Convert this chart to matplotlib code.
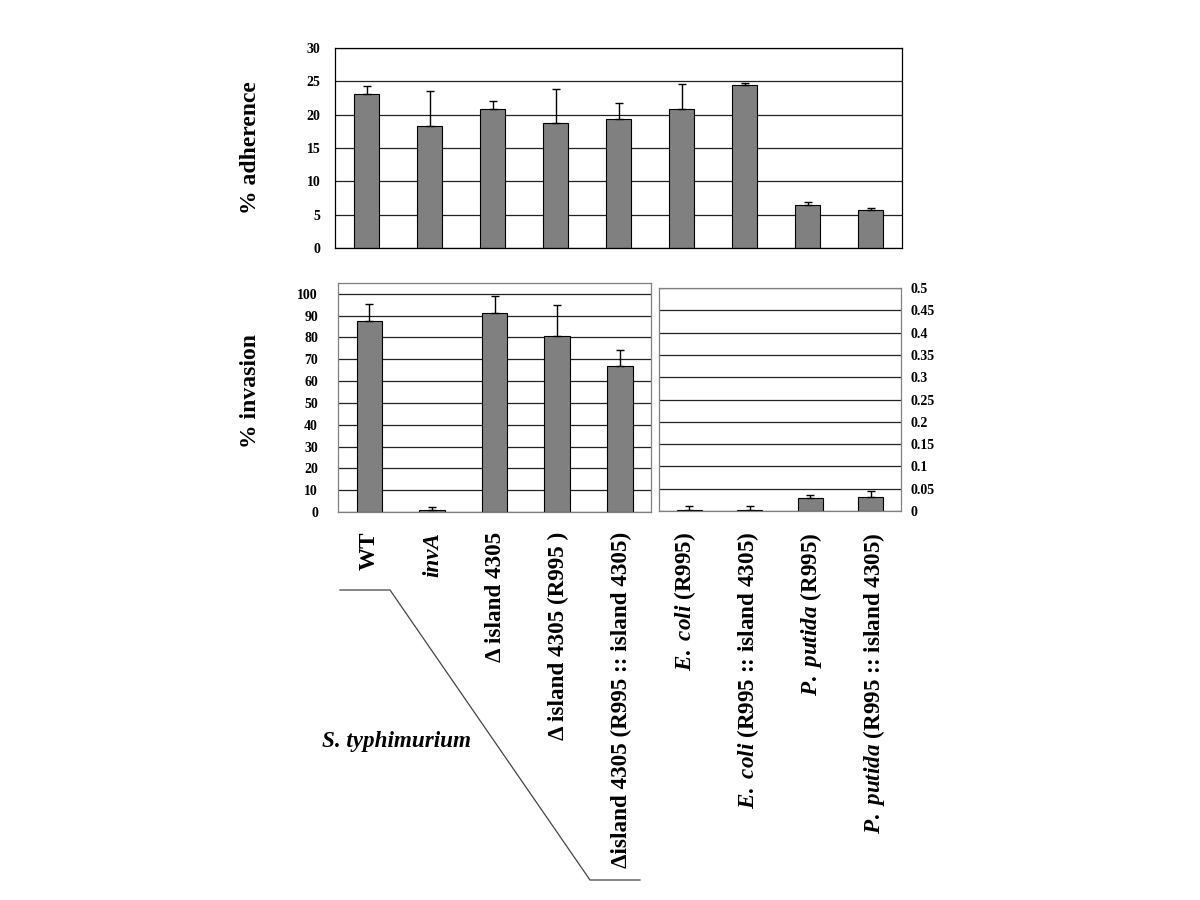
import numpy as np
import matplotlib
matplotlib.use('Agg')
import matplotlib.pyplot as plt
from matplotlib import transforms
from matplotlib.lines import Line2D

plt.rcParams['font.family'] = ['Liberation Serif', 'DejaVu Serif']
plt.rcParams['font.weight'] = 'bold'
plt.rcParams['mathtext.fontset'] = 'custom'
plt.rcParams['mathtext.rm'] = 'Liberation Serif:weight=bold'
plt.rcParams['mathtext.bf'] = 'Liberation Serif:weight=bold'
plt.rcParams['mathtext.it'] = 'Liberation Serif:style=italic:weight=bold'

# category labels (all nine strains)
labels = ['WT', 'invA', 'Δ island 4305', 'Δ island 4305 (R995 )',
          'Δisland 4305 (R995 :: island 4305)',
          r'$E.\ coli$ (R995)', r'$E.\ coli$ (R995 :: island 4305)',
          r'$P.\ putida$ (R995)', r'$P.\ putida$ (R995 :: island 4305)']

# % adherence
adh = [23.1, 18.3, 20.8, 18.8, 19.4, 20.8, 24.5, 6.45, 5.65]
adh_err = [1.15, 5.2, 1.25, 5.1, 2.35, 3.8, 0.25, 0.45, 0.35]

# % invasion, S. typhimurium strains
inv_s = [87.4, 0.8, 91.1, 80.8, 67.0]
inv_s_err = [8.1, 1.5, 8.1, 14.1, 7.4]

# % invasion, other hosts
inv_o = [0.003, 0.003, 0.030, 0.032]
inv_o_err = [0.008, 0.008, 0.007, 0.012]

bar_col = '#808080'
grid_col = '#222222'
w = 0.41

fig = plt.figure(figsize=(12, 9), dpi=100)

def style(ax, pad):
    ax.set_axisbelow(True)
    ax.yaxis.grid(True, color=grid_col, linewidth=0.9)
    ax.tick_params(length=0, labelsize=10, pad=pad)
    ax.set_xticks([])
    for s in ax.spines.values():
        s.set_linewidth(0.9)

# top: adherence
ax1 = fig.add_axes([0.2792, 0.7244, 0.4725, 0.2223])
x = np.arange(len(adh))
ax1.bar(x, adh, w, color=bar_col, edgecolor='black', linewidth=0.8,
        yerr=[np.zeros(len(adh)), adh_err], capsize=3,
        error_kw=dict(elinewidth=1, ecolor='black', capthick=1))
ax1.set_xlim(-0.5, len(adh) - 0.5)
ax1.set_ylim(0, 30)
ax1.set_yticks(np.arange(0, 31, 5))
style(ax1, 10.5)

# bottom left: invasion S. typhimurium
ax2 = fig.add_axes([0.2817, 0.4311, 0.2608, 0.2545])
x2 = np.arange(len(inv_s))
ax2.bar(x2, inv_s, w, color=bar_col, edgecolor='black', linewidth=0.8,
        yerr=[np.zeros(len(inv_s)), inv_s_err], capsize=3,
        error_kw=dict(elinewidth=1, ecolor='black', capthick=1))
ax2.set_xlim(-0.5, len(inv_s) - 0.5)
ax2.set_ylim(0, 105)
ax2.set_yticks(np.arange(0, 101, 10))
style(ax2, 14.5)
for s in ax2.spines.values():
    s.set_color('#808080')

# bottom right: invasion other hosts
ax3 = fig.add_axes([0.5492, 0.4322, 0.2016, 0.2478])
x3 = np.arange(len(inv_o))
ax3.bar(x3, inv_o, w, color=bar_col, edgecolor='black', linewidth=0.8,
        yerr=[np.zeros(len(inv_o)), inv_o_err], capsize=3,
        error_kw=dict(elinewidth=1, ecolor='black', capthick=1))
ax3.set_xlim(-0.5, len(inv_o) - 0.5)
ax3.set_ylim(0, 0.5)
yt = np.round(np.arange(0, 0.501, 0.05), 2)
ax3.set_yticks(yt)
ax3.set_yticklabels(['%g' % v for v in yt])
ax3.yaxis.tick_right()
style(ax3, 7)
for s in ax3.spines.values():
    s.set_color('#808080')

# y axis titles
fig.text(0.209, 0.8356, '% adherence', rotation=90, ha='center', va='center', fontsize=17)
fig.text(0.209, 0.5656, '% invasion', rotation=90, ha='center', va='center', fontsize=17)

# rotated category labels under the bottom panels
tr = transforms.blended_transform_factory(ax1.transData, fig.transFigure)
tr = tr + transforms.ScaledTranslation(3 / 100, 0, fig.dpi_scale_trans)
for i, lab in enumerate(labels):
    ax1.text(i, 0.4089, lab, transform=tr, rotation=90, ha='center', va='top',
             fontsize=16.7, fontstyle='italic' if lab == 'invA' else 'normal',
             clip_on=False)

# S. typhimurium bracket
bx = np.array([340, 390, 590, 640]) / 1200
by = 1 - np.array([590, 590, 880, 880]) / 900
fig.add_artist(Line2D(bx, by, color='#444444', linewidth=0.9))
fig.text(0.3308, 0.1756, 'S. typhimurium', ha='center', va='center',
         fontsize=16.7, fontstyle='italic')

fig.savefig('out.png', dpi=100)
